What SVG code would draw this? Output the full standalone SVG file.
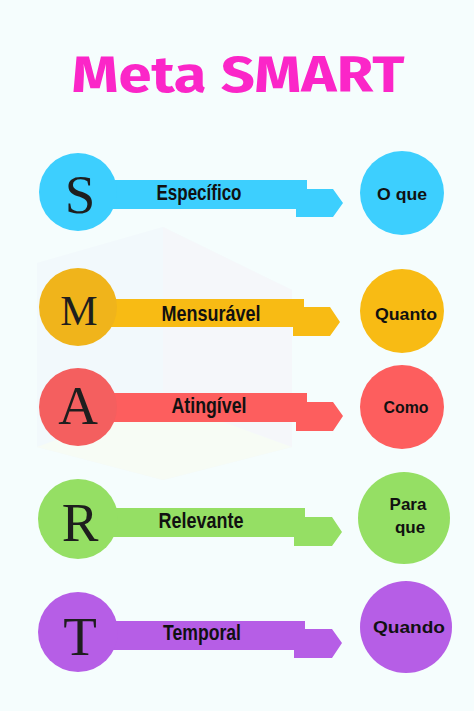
<svg xmlns="http://www.w3.org/2000/svg" width="474" height="711" viewBox="0 0 474 711">
<style>
.title{font-family:"Fira Sans","Open Sans","Liberation Sans",sans-serif;font-weight:700;font-size:50px;fill:#fb26c8}
.letter{font-family:"Liberation Serif","DejaVu Serif",serif;font-size:55px;fill:#1e1e1e;text-anchor:middle}
.lbl{font-family:"Liberation Sans","Noto Sans",sans-serif;font-weight:700;font-size:22px;fill:#111;text-anchor:middle}
.ans{font-family:"Liberation Sans","Noto Sans",sans-serif;font-weight:700;font-size:17px;fill:#111;text-anchor:middle}
.c1{fill:#3dcffe}.c2{fill:#f8bb14}.c3{fill:#fd5e5e}.c4{fill:#95df64}.c5{fill:#b65ee6}
</style>
<rect width="474" height="711" fill="#f5fdfd"/>
<g id="watermark" opacity="0.35">
<polygon points="163,227 292,290 292,447 163,480 37,447 37,263" fill="#eef3fb"/>
<polygon points="163,227 292,290 292,447 163,400" fill="#f7eef6"/>
<polygon points="37,447 163,400 292,447 163,480" fill="#fbfbe8"/>
</g>
<text class="title" x="238" y="92" text-anchor="middle" textLength="333" lengthAdjust="spacingAndGlyphs">Meta SMART</text>
<g id="connectors">
<polygon class="c1" points="100,180 307,180 307,189 333,189 343,203 333,217 296,217 296,209 100,209"/>
<polygon class="c2" points="100,299 304,299 304,307 330,307 340,322 330,336 293,336 293,327 100,327"/>
<polygon class="c3" points="100,393 307,393 307,402 333,402 343,416 333,431 296,431 296,422 100,422"/>
<polygon class="c4" points="100,508 305,508 305,517 332,517 342,532 332,546 294,546 294,537 100,537"/>
<polygon class="c5" points="100,621 305,621 305,629 332,629 342,643 332,658 294,658 294,650 100,650"/>
</g>
<g id="row-S">
<circle class="c1" cx="78" cy="192" r="39"/>
<text class="letter" x="80" y="213">S</text>
<text class="lbl" x="199" y="200" textLength="85" lengthAdjust="spacingAndGlyphs">Específico</text>
</g>
<g id="ans-S"><circle class="c1" cx="402" cy="193" r="42"/><text class="ans" x="402" y="200" textLength="50" lengthAdjust="spacingAndGlyphs">O que</text></g>
<g id="row-M">
<circle cx="78" cy="307" r="39" fill="#f0b41b"/>
<text class="letter" x="79" y="325" style="font-size:42px">M</text>
<text class="lbl" x="211" y="321" textLength="99" lengthAdjust="spacingAndGlyphs">Mensurável</text>
</g>
<g id="ans-M"><circle class="c2" cx="402" cy="311" r="42"/><text class="ans" x="406" y="320" textLength="62" lengthAdjust="spacingAndGlyphs">Quanto</text></g>
<g id="row-A">
<circle cx="78" cy="407" r="39" fill="#f45f5f"/>
<text class="letter" x="78" y="424">A</text>
<text class="lbl" x="209" y="413" textLength="75" lengthAdjust="spacingAndGlyphs">Atingível</text>
</g>
<g id="ans-A"><circle class="c3" cx="402" cy="407" r="42"/><text class="ans" x="406" y="413" textLength="45" lengthAdjust="spacingAndGlyphs">Como</text></g>
<g id="row-R">
<circle class="c4" cx="78" cy="519" r="40"/>
<text class="letter" x="80" y="541">R</text>
<text class="lbl" x="201" y="528" textLength="85" lengthAdjust="spacingAndGlyphs">Relevante</text>
</g>
<g id="ans-R"><circle class="c4" cx="404" cy="518" r="46"/><text class="ans" x="408" y="510">Para</text><text class="ans" x="410" y="533">que</text></g>
<g id="row-T">
<circle class="c5" cx="78" cy="632" r="40"/>
<text class="letter" x="80" y="655">T</text>
<text class="lbl" x="202" y="640" textLength="78" lengthAdjust="spacingAndGlyphs">Temporal</text>
</g>
<g id="ans-T"><circle class="c5" cx="406" cy="627" r="46"/><text class="ans" x="409" y="633" textLength="72" lengthAdjust="spacingAndGlyphs">Quando</text></g>
</svg>
